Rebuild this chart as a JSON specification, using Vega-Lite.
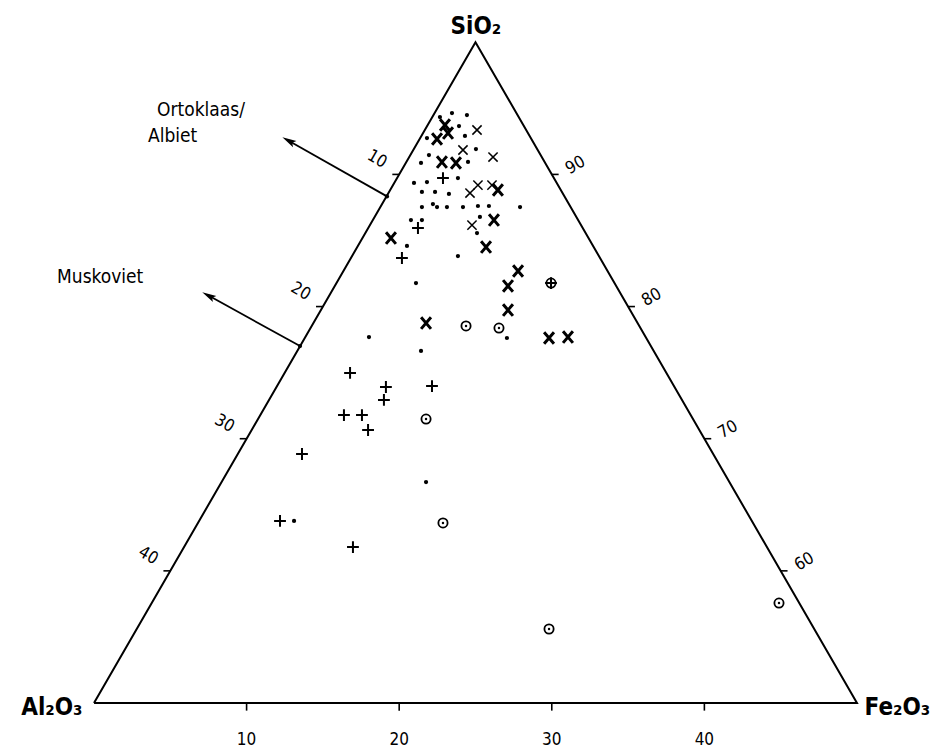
{
  "$schema": "https://vega.github.io/schema/vega-lite/v6.json",
  "width": 938,
  "height": 754,
  "padding": 0,
  "autosize": {"type": "none"},
  "background": "white",
  "config": {"view": {"stroke": null}, "text": {"font": "DejaVu Sans Condensed, DejaVu Sans", "color": "black"}},
  "datasets": {
    "frame": [
      {"x": 0, "y": 0, "o": 1},
      {"x": 50, "y": 0, "o": 2},
      {"x": 25, "y": 43.3, "o": 3},
      {"x": 0, "y": 0, "o": 4}
    ],
    "ticks": [
      {"x": 20, "y": 34.64, "x2": 19.55, "y2": 34.64},
      {"x": 15, "y": 25.98, "x2": 14.55, "y2": 25.98},
      {"x": 10, "y": 17.32, "x2": 9.55, "y2": 17.32},
      {"x": 5, "y": 8.66, "x2": 4.55, "y2": 8.66},
      {"x": 30, "y": 34.64, "x2": 30.45, "y2": 34.64},
      {"x": 35, "y": 25.98, "x2": 35.45, "y2": 25.98},
      {"x": 40, "y": 17.32, "x2": 40.45, "y2": 17.32},
      {"x": 45, "y": 8.66, "x2": 45.45, "y2": 8.66},
      {"x": 10, "y": 0, "x2": 10, "y2": -0.5},
      {"x": 20, "y": 0, "x2": 20, "y2": -0.5},
      {"x": 30, "y": 0, "x2": 30, "y2": -0.5},
      {"x": 40, "y": 0, "x2": 40, "y2": -0.5}
    ],
    "arrows": [
      {"x": 19.2, "y": 33.2, "x2": 12.9, "y2": 36.76},
      {"x": 13.5, "y": 23.39, "x2": 7.65, "y2": 26.62}
    ],
    "heads": [
      {"x": 12.75, "y": 36.85},
      {"x": 7.5, "y": 26.70}
    ],
    "leftLabels": [
      {"x": 18.55, "y": 35.64, "t": "10"},
      {"x": 13.55, "y": 26.98, "t": "20"},
      {"x": 8.55, "y": 18.32, "t": "30"},
      {"x": 3.55, "y": 9.66, "t": "40"}
    ],
    "rightLabels": [
      {"x": 31.55, "y": 35.24, "t": "90"},
      {"x": 36.55, "y": 26.58, "t": "80"},
      {"x": 41.55, "y": 17.92, "t": "70"},
      {"x": 46.55, "y": 9.26, "t": "60"}
    ],
    "bottomLabels": [
      {"x": 10, "y": -2.42, "t": "10"},
      {"x": 20, "y": -2.42, "t": "20"},
      {"x": 30, "y": -2.42, "t": "30"},
      {"x": 40, "y": -2.42, "t": "40"}
    ],
    "notes": [
      {"x": 4.13, "y": 38.86, "t": "Ortoklaas/"},
      {"x": 3.54, "y": 37.16, "t": "Albiet"},
      {"x": -2.42, "y": 27.92, "t": "Muskoviet"}
    ],
    "points": [
      {"x": 22.67, "y": 38.40, "kind": "dot"},
      {"x": 23.46, "y": 38.66, "kind": "dot"},
      {"x": 24.44, "y": 38.53, "kind": "dot"},
      {"x": 23.92, "y": 37.81, "kind": "dot"},
      {"x": 24.31, "y": 37.16, "kind": "dot"},
      {"x": 21.82, "y": 37.02, "kind": "dot"},
      {"x": 25.03, "y": 36.30, "kind": "dot"},
      {"x": 21.95, "y": 35.91, "kind": "dot"},
      {"x": 21.43, "y": 35.39, "kind": "dot"},
      {"x": 24.51, "y": 35.46, "kind": "dot"},
      {"x": 23.85, "y": 34.40, "kind": "dot"},
      {"x": 20.97, "y": 34.08, "kind": "dot"},
      {"x": 21.82, "y": 34.14, "kind": "dot"},
      {"x": 21.49, "y": 33.49, "kind": "dot"},
      {"x": 22.35, "y": 33.49, "kind": "dot"},
      {"x": 23.26, "y": 33.36, "kind": "dot"},
      {"x": 21.49, "y": 32.50, "kind": "dot"},
      {"x": 22.21, "y": 32.70, "kind": "dot"},
      {"x": 22.48, "y": 32.50, "kind": "dot"},
      {"x": 23.13, "y": 32.50, "kind": "dot"},
      {"x": 24.18, "y": 32.50, "kind": "dot"},
      {"x": 25.16, "y": 32.57, "kind": "dot"},
      {"x": 25.88, "y": 32.57, "kind": "dot"},
      {"x": 27.92, "y": 32.50, "kind": "dot"},
      {"x": 25.29, "y": 31.85, "kind": "dot"},
      {"x": 20.77, "y": 31.65, "kind": "dot"},
      {"x": 21.49, "y": 31.65, "kind": "dot"},
      {"x": 25.10, "y": 30.80, "kind": "dot"},
      {"x": 20.51, "y": 29.95, "kind": "dot"},
      {"x": 23.85, "y": 29.29, "kind": "dot"},
      {"x": 21.10, "y": 27.52, "kind": "dot"},
      {"x": 27.06, "y": 23.92, "kind": "dot"},
      {"x": 21.43, "y": 23.07, "kind": "dot"},
      {"x": 18.02, "y": 23.98, "kind": "dot"},
      {"x": 21.76, "y": 14.48, "kind": "dot"},
      {"x": 13.11, "y": 11.93, "kind": "dot"},
      {"x": 19.2, "y": 33.2, "kind": "dot"},
      {"x": 13.5, "y": 23.39, "kind": "dot"},
      {"x": 25.10, "y": 37.55, "kind": "thinx"},
      {"x": 26.15, "y": 35.78, "kind": "thinx"},
      {"x": 24.18, "y": 36.24, "kind": "thinx"},
      {"x": 24.64, "y": 33.42, "kind": "thinx"},
      {"x": 25.16, "y": 33.94, "kind": "thinx"},
      {"x": 26.08, "y": 33.94, "kind": "thinx"},
      {"x": 24.77, "y": 31.32, "kind": "thinx"},
      {"x": 23.00, "y": 37.88, "kind": "boldx"},
      {"x": 22.48, "y": 36.96, "kind": "boldx"},
      {"x": 23.20, "y": 37.35, "kind": "boldx"},
      {"x": 22.80, "y": 35.45, "kind": "boldx"},
      {"x": 23.72, "y": 35.39, "kind": "boldx"},
      {"x": 26.47, "y": 33.62, "kind": "boldx"},
      {"x": 26.21, "y": 31.65, "kind": "boldx"},
      {"x": 19.46, "y": 30.47, "kind": "boldx"},
      {"x": 25.69, "y": 29.88, "kind": "boldx"},
      {"x": 27.79, "y": 28.31, "kind": "boldx"},
      {"x": 27.13, "y": 27.33, "kind": "boldx"},
      {"x": 27.13, "y": 25.75, "kind": "boldx"},
      {"x": 21.76, "y": 24.90, "kind": "boldx"},
      {"x": 29.82, "y": 23.92, "kind": "boldx"},
      {"x": 31.06, "y": 23.98, "kind": "boldx"},
      {"x": 22.87, "y": 34.40, "kind": "plus"},
      {"x": 21.23, "y": 31.13, "kind": "plus"},
      {"x": 20.18, "y": 29.16, "kind": "plus"},
      {"x": 29.95, "y": 27.52, "kind": "plus"},
      {"x": 16.78, "y": 21.63, "kind": "plus"},
      {"x": 19.13, "y": 20.71, "kind": "plus"},
      {"x": 22.15, "y": 20.77, "kind": "plus"},
      {"x": 19.00, "y": 19.86, "kind": "plus"},
      {"x": 16.38, "y": 18.87, "kind": "plus"},
      {"x": 17.56, "y": 18.87, "kind": "plus"},
      {"x": 17.96, "y": 17.89, "kind": "plus"},
      {"x": 13.63, "y": 16.32, "kind": "plus"},
      {"x": 12.19, "y": 11.93, "kind": "plus"},
      {"x": 16.97, "y": 10.22, "kind": "plus"},
      {"x": 29.95, "y": 27.52, "kind": "ring"},
      {"x": 24.38, "y": 24.71, "kind": "ring"},
      {"x": 26.54, "y": 24.57, "kind": "ring"},
      {"x": 21.76, "y": 18.61, "kind": "ring"},
      {"x": 22.87, "y": 11.80, "kind": "ring"},
      {"x": 29.82, "y": 4.85, "kind": "ring"},
      {"x": 44.89, "y": 6.55, "kind": "ring"}
    ]
  },
  "encoding": {
    "x": {"field": "x", "type": "quantitative", "axis": null, "scale": {"domain": [-6.16, 55.31], "nice": false, "zero": false}},
    "y": {"field": "y", "type": "quantitative", "axis": null, "scale": {"domain": [-3.342, 46.07], "nice": false, "zero": false}}
  },
  "layer": [
    {
      "data": {"name": "frame"},
      "mark": {"type": "line", "color": "black", "strokeWidth": 2, "strokeJoin": "miter"},
      "encoding": {"order": {"field": "o", "type": "quantitative"}}
    },
    {
      "data": {"name": "ticks"},
      "mark": {"type": "rule", "color": "black", "strokeWidth": 1.6},
      "encoding": {"x2": {"field": "x2"}, "y2": {"field": "y2"}}
    },
    {
      "data": {"name": "arrows"},
      "mark": {"type": "rule", "color": "black", "strokeWidth": 1.8},
      "encoding": {"x2": {"field": "x2"}, "y2": {"field": "y2"}}
    },
    {
      "data": {"name": "heads"},
      "mark": {"type": "point", "shape": "M0,-1L0.5,1L0,0.6L-0.5,1Z", "filled": true, "color": "black", "size": 200, "angle": 299, "opacity": 1},
      "encoding": {}
    },
    {
      "data": {"name": "leftLabels"},
      "mark": {"type": "text", "fontSize": 17, "angle": 30, "align": "center", "baseline": "middle"},
      "encoding": {"text": {"field": "t"}}
    },
    {
      "data": {"name": "rightLabels"},
      "mark": {"type": "text", "fontSize": 17, "angle": -30, "align": "center", "baseline": "middle"},
      "encoding": {"text": {"field": "t"}}
    },
    {
      "data": {"name": "bottomLabels"},
      "mark": {"type": "text", "fontSize": 17, "align": "center", "baseline": "middle"},
      "encoding": {"text": {"field": "t"}}
    },
    {
      "data": {"name": "notes"},
      "mark": {"type": "text", "fontSize": 19, "align": "left", "baseline": "middle"},
      "encoding": {"text": {"field": "t"}}
    },
    {
      "data": {"values": [{"x": 25.03, "y": 44.3, "t": "SiO₂"}]},
      "mark": {"type": "text", "fontSize": 24, "fontWeight": "bold", "align": "center", "baseline": "middle"},
      "encoding": {"text": {"field": "t"}}
    },
    {
      "data": {"values": [{"x": -0.75, "y": -0.3, "t": "Al₂O₃"}]},
      "mark": {"type": "text", "fontSize": 24, "fontWeight": "bold", "align": "right", "baseline": "middle"},
      "encoding": {"text": {"field": "t"}}
    },
    {
      "data": {"values": [{"x": 50.5, "y": -0.3, "t": "Fe₂O₃"}]},
      "mark": {"type": "text", "fontSize": 24, "fontWeight": "bold", "align": "left", "baseline": "middle"},
      "encoding": {"text": {"field": "t"}}
    },
    {
      "data": {"name": "points"},
      "transform": [{"filter": "datum.kind === 'dot'"}],
      "mark": {"type": "point", "shape": "circle", "filled": true, "color": "black", "size": 18, "opacity": 1}
    },
    {
      "data": {"name": "points"},
      "transform": [{"filter": "datum.kind === 'thinx'"}],
      "mark": {"type": "point", "shape": "M-1,-1L1,1M-1,1L1,-1", "filled": false, "color": "black", "size": 85, "strokeWidth": 1.5, "opacity": 1}
    },
    {
      "data": {"name": "points"},
      "transform": [{"filter": "datum.kind === 'boldx'"}],
      "mark": {"type": "point", "shape": "M-0.85,-1L0.85,1M-0.85,1L0.85,-1", "filled": false, "color": "black", "size": 135, "strokeWidth": 3, "opacity": 1}
    },
    {
      "data": {"name": "points"},
      "transform": [{"filter": "datum.kind === 'plus'"}],
      "mark": {"type": "point", "shape": "M-1,0L1,0M0,-1L0,1", "filled": false, "color": "black", "size": 140, "strokeWidth": 2, "opacity": 1}
    },
    {
      "data": {"name": "points"},
      "transform": [{"filter": "datum.kind === 'ring'"}],
      "mark": {"type": "point", "shape": "circle", "filled": false, "color": "black", "size": 85, "strokeWidth": 1.8, "opacity": 1}
    },
    {
      "data": {"name": "points"},
      "transform": [{"filter": "datum.kind === 'ring'"}],
      "mark": {"type": "point", "shape": "circle", "filled": true, "color": "black", "size": 6, "opacity": 1}
    }
  ]
}
